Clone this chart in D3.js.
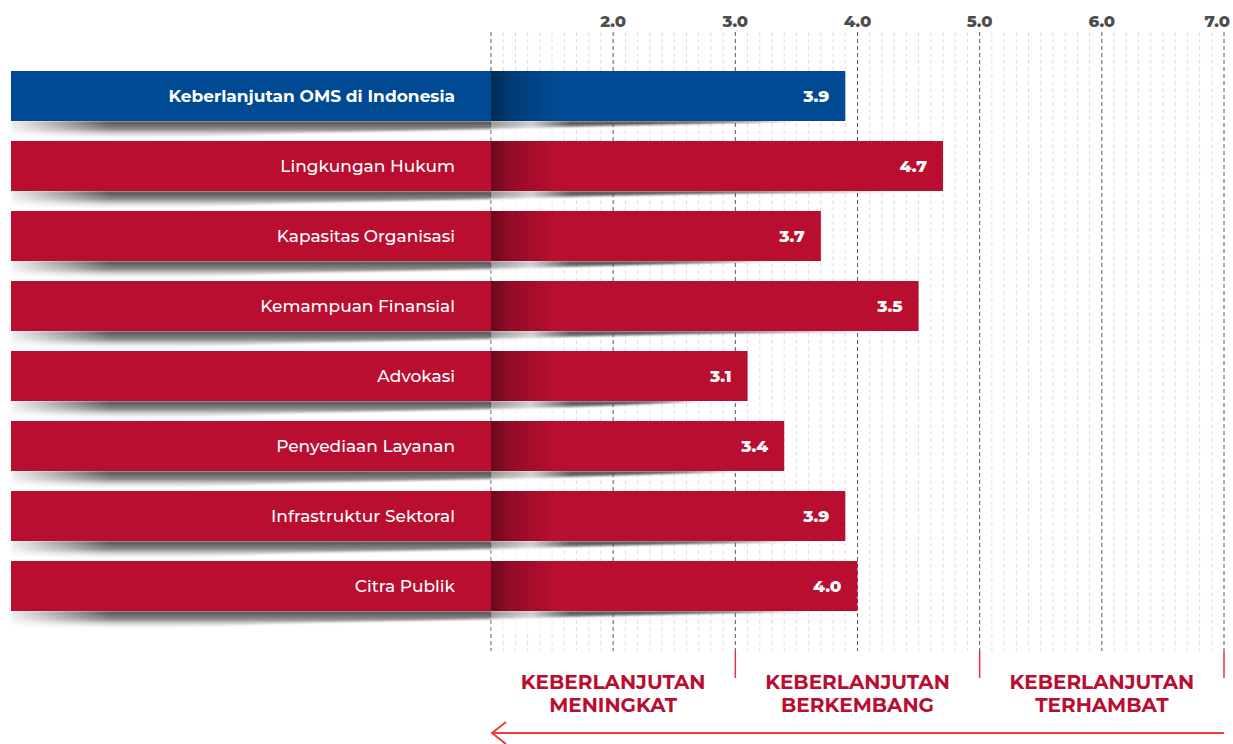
<!DOCTYPE html>
<html>
<head>
<meta charset="utf-8">
<script src="https://cdn.jsdelivr.net/npm/d3@7"></script>
<style>
  html, body { margin: 0; padding: 0; background: #fff; }
  svg { display: block; }
</style>
</head>
<body>
<svg id="chart" width="1233" height="744"></svg>
<script>
const categories = [
  "Keberlanjutan OMS di Indonesia",
  "Lingkungan Hukum",
  "Kapasitas Organisasi",
  "Kemampuan Finansial",
  "Advokasi",
  "Penyediaan Layanan",
  "Infrastruktur Sektoral",
  "Citra Publik"
];
const values = [3.9, 4.7, 3.7, 4.5, 3.1, 3.4, 3.9, 4.0];
const valueLabels = ["3.9", "4.7", "3.7", "3.5", "3.1", "3.4", "3.9", "4.0"];
const tickValues = [2, 3, 4, 5, 6, 7];
const tickLabels = ["2.0", "3.0", "4.0", "5.0", "6.0", "7.0"];
const zoneBounds = [1, 3, 5, 7];
const zoneLabels = [
  ["KEBERLANJUTAN", "MENINGKAT"],
  ["KEBERLANJUTAN", "BERKEMBANG"],
  ["KEBERLANJUTAN", "TERHAMBAT"]
];

const svg = d3.select("#chart");
const FONT = "Montserrat, 'Open Sans', 'Noto Sans', sans-serif";
const RED = "#b90e30";
const BLUE = "#004a93";

const x = d3.scaleLinear().domain([1, 7]).range([491, 1224]);
const y = d3.scaleBand().domain(categories).range([71, 611]).paddingInner(20 / 70).paddingOuter(0);
const labelLeft = 11;

const defs = svg.append("defs");
const dark = defs.append("linearGradient").attr("id", "darkEdge").attr("x1", 0).attr("x2", 1).attr("y1", 0).attr("y2", 0);
dark.append("stop").attr("offset", 0).attr("stop-color", "#000").attr("stop-opacity", 0.42);
dark.append("stop").attr("offset", 0.3).attr("stop-color", "#000").attr("stop-opacity", 0.2);
dark.append("stop").attr("offset", 1).attr("stop-color", "#000").attr("stop-opacity", 0);

const shadowGrad = defs.append("linearGradient").attr("id", "shadowGrad").attr("x1", 0).attr("x2", 0).attr("y1", 0).attr("y2", 1);
shadowGrad.append("stop").attr("offset", 0).attr("stop-color", "#3c3c3c").attr("stop-opacity", 0.95);
shadowGrad.append("stop").attr("offset", 0.45).attr("stop-color", "#6a6a6a").attr("stop-opacity", 0.75);
shadowGrad.append("stop").attr("offset", 1).attr("stop-color", "#ffffff").attr("stop-opacity", 0);

const leftFade = defs.append("linearGradient").attr("id", "leftFade").attr("x1", 0).attr("x2", 1).attr("y1", 0).attr("y2", 0);
leftFade.append("stop").attr("offset", 0).attr("stop-color", "#fff").attr("stop-opacity", 1);
leftFade.append("stop").attr("offset", 1).attr("stop-color", "#fff").attr("stop-opacity", 0);

const lightGrad = defs.append("linearGradient").attr("id", "lightGrad").attr("x1", 0).attr("x2", 1).attr("y1", 0).attr("y2", 0);
lightGrad.append("stop").attr("offset", 0).attr("stop-color", "#fff").attr("stop-opacity", 0.35);
lightGrad.append("stop").attr("offset", 0.5).attr("stop-color", "#fff").attr("stop-opacity", 0.7);
lightGrad.append("stop").attr("offset", 1).attr("stop-color", "#fff").attr("stop-opacity", 0.0);

const blur = defs.append("filter").attr("id", "blur").attr("x", "-5%").attr("y", "-50%").attr("width", "110%").attr("height", "200%");
blur.append("feGaussianBlur").attr("stdDeviation", "1.5 1");

// gridlines
const minor = d3.range(11, 71).map(d => d / 10).filter(d => Math.abs(d - Math.round(d)) > 1e-6);
const grid = svg.append("g");
grid.selectAll("line.minor").data(minor).join("line")
  .attr("class", "minor")
  .attr("x1", d => x(d)).attr("x2", d => x(d))
  .attr("y1", 32).attr("y2", 651)
  .attr("stroke", "#dedede").attr("stroke-width", 1).attr("stroke-dasharray", "4,3");
grid.selectAll("line.major").data([1].concat(tickValues)).join("line")
  .attr("class", "major")
  .attr("x1", d => x(d)).attr("x2", d => x(d))
  .attr("y1", 32).attr("y2", 651)
  .attr("stroke", "#555").attr("stroke-width", 1).attr("stroke-dasharray", "4,3");

// top tick labels
svg.append("g").selectAll("text").data(tickValues).join("text")
  .attr("x", (d, i) => i === tickValues.length - 1 ? x(d) + 6 : x(d))
  .attr("y", 27)
  .attr("text-anchor", (d, i) => i === tickValues.length - 1 ? "end" : "middle")
  .attr("font-family", FONT).attr("font-weight", 800).attr("font-size", 16.5)
  .attr("fill", "#4d4d4d")
  .text((d, i) => tickLabels[i]);

// shadows
const shadowLine = d3.line().curve(d3.curveMonotoneX);
const sh = svg.append("g").attr("filter", "url(#blur)");
sh.selectAll("path").data(categories).join("path")
  .attr("d", (c, i) => {
    const b = y(c) + y.bandwidth();
    const e = x(values[i]) - 50;
    const pts = [[11, b + 19], [60, b + 19], [300, b + 12], [490, b + 8], [600, b + 5], [e, b]];
    return `M11,${b} L${e},${b} ` + shadowLine(pts.slice().reverse()).replace(/^M/, "L") + " Z";
  })
  .attr("fill", "url(#shadowGrad)");

// left fade of the shadows
svg.append("g").selectAll("rect").data(categories).join("rect")
  .attr("x", 0).attr("y", c => y(c) + y.bandwidth())
  .attr("width", 110).attr("height", 20)
  .attr("fill", "url(#leftFade)");

// light fade under bars right of the axis start
svg.append("g").selectAll("rect").data(categories).join("rect")
  .attr("x", x(1)).attr("y", c => y(c) + y.bandwidth())
  .attr("width", 80).attr("height", 20)
  .attr("fill", "url(#lightGrad)");

// bars
const bars = svg.append("g");
bars.selectAll("rect.bar").data(categories).join("rect")
  .attr("class", "bar")
  .attr("x", labelLeft).attr("y", c => y(c))
  .attr("width", (c, i) => x(values[i]) - labelLeft)
  .attr("height", y.bandwidth())
  .attr("fill", (c, i) => i === 0 ? BLUE : RED);
bars.selectAll("rect.edge").data(categories).join("rect")
  .attr("class", "edge")
  .attr("x", x(1)).attr("y", c => y(c))
  .attr("width", 65).attr("height", y.bandwidth())
  .attr("fill", "url(#darkEdge)");

// category labels
svg.append("g").selectAll("text").data(categories).join("text")
  .attr("x", 455).attr("y", c => y(c) + y.bandwidth() / 2)
  .attr("dy", "0.36em")
  .attr("text-anchor", "end")
  .attr("font-family", FONT)
  .attr("font-weight", (c, i) => i === 0 ? 700 : 500)
  .attr("font-size", 17)
  .attr("fill", "#fff")
  .text(c => c);

// value labels
svg.append("g").selectAll("text").data(categories).join("text")
  .attr("x", (c, i) => x(values[i]) - 16)
  .attr("y", c => y(c) + y.bandwidth() / 2)
  .attr("dy", "0.36em")
  .attr("text-anchor", "end")
  .attr("font-family", FONT).attr("font-weight", 800).attr("font-size", 17)
  .attr("fill", "#fff")
  .text((c, i) => valueLabels[i]);

// zone separators
svg.append("g").selectAll("line").data(zoneBounds.slice(1)).join("line")
  .attr("x1", d => x(d)).attr("x2", d => x(d))
  .attr("y1", 651).attr("y2", 678)
  .attr("stroke", "#e8323c").attr("stroke-width", 1.5);

// zone labels
const zl = svg.append("g").selectAll("text").data(zoneLabels).join("text")
  .attr("x", (d, i) => (x(zoneBounds[i]) + x(zoneBounds[i + 1])) / 2)
  .attr("text-anchor", "middle")
  .attr("font-family", FONT).attr("font-weight", 700).attr("font-size", 20)
  .attr("fill", "#b90e30");
zl.selectAll("tspan").data(d => d).join("tspan")
  .attr("x", function () { return d3.select(this.parentNode).attr("x"); })
  .attr("y", (d, j) => 689 + j * 23)
  .text(d => d);

// arrow
svg.append("line")
  .attr("x1", x(1) + 1).attr("x2", x(7)).attr("y1", 733).attr("y2", 733)
  .attr("stroke", "#ee3b3b").attr("stroke-width", 2);
svg.append("path")
  .attr("d", `M${x(1) + 15},722 L${x(1) + 1},733 L${x(1) + 15},744`)
  .attr("fill", "none").attr("stroke", "#ee3b3b").attr("stroke-width", 2);
</script>
</body>
</html>
